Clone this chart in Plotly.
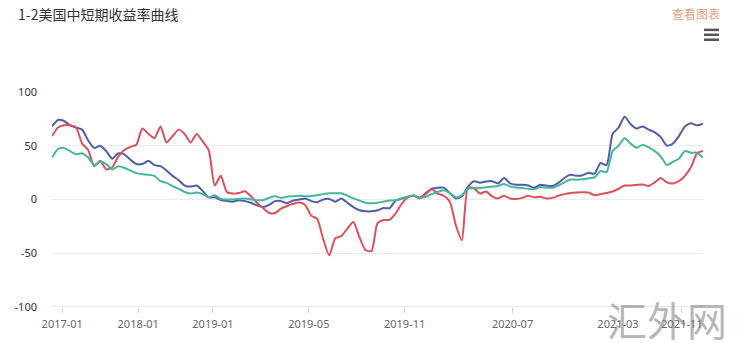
import plotly.graph_objects as go

# category index (one point per observation)
n_points = 109
idx = list(range(n_points))

tick_pos = [1.7, 14.3, 26.7, 42.6, 58.5, 76.4, 93.9, 104.5]
tick_text = ["2017-01", "2018-01", "2019-01", "2019-05", "2019-11", "2020-07", "2021-03", "2021-11"]

blue = [68, 74, 73, 69, 67, 65, 55, 48, 50, 45, 38, 43, 42, 37, 33, 33, 36, 32, 31, 27,
        22, 18, 13, 12, 13, 8, 2, 2, -0.5, -1.5, -2, -0.6, -1.5, -3, -5.5, -7, -5, -1.5, -1.5, -3.5,
        -1, 0, 1, -1.5, -2.5, 0, 0.5, -2, 1, -3, -7, -10, -11, -11, -10, -8, -8, -1, 1, 2.5,
        3.5, 1, 6, 10, 11, 11, 6, 1, 3, 12, 17, 15.6, 16.8, 17, 15, 20, 15, 13.8, 13.8, 13,
        11, 13.8, 13, 12.5, 15.5, 20, 23, 22, 22.5, 24.8, 24, 34, 32, 61, 67, 77, 70, 66, 68, 65,
        62.5, 58, 50, 52, 59, 68, 71, 69, 70.6]

red = [59, 67, 69, 69, 67, 52, 46, 31, 36, 28, 30, 40, 46, 49, 51, 66, 61, 57, 68, 53,
       59, 65, 61, 53, 61, 54, 46, 13, 22, 7, 5.5, 6, 7.6, 3, -3, -8, -12.5, -12.5, -8.5, -6,
       -4, -2.8, -5, -15, -18, -37, -52, -36, -34, -27, -21, -35, -47, -48, -22, -19, -19, -13, -4, 2,
       3.5, 2, 5, 9.5, 5.5, 3.5, -2, -24, -38, 11, 10.5, 5.5, 7.5, 3, 1, 3.4, 1, 0.5, 1.5, 3.4,
       2, 2.5, 1, 1.5, 3.5, 5, 6, 6.5, 6.7, 6.5, 4, 5, 6, 7.5, 10, 13, 13, 13.5, 14, 12.5,
       16, 20, 16, 15, 17, 22, 30, 43, 45.2]

teal = [39, 47, 48, 45, 42, 43, 39, 32, 35, 33, 28, 31, 29.5, 27, 24.5, 23.5, 23, 22, 17, 15.5,
        12.5, 10, 7, 5.5, 6.5, 5, 2, 4, 0.5, 0, 0, 0.5, 1, 0, -0.6, -0.6, 1.5, 3, 1.5, 2.5,
        3, 3.4, 3, 3.2, 4, 5, 5.8, 5.8, 5.8, 3.5, 1, -1, -3, -3.5, -3, -2, -1, -0.6, 0.5, 2.5,
        4, 1.5, 2.5, 5, 7, 8.5, 6, 2, 4, 10, 10.5, 10.8, 11.4, 12, 12.5, 14.5, 12, 11.2, 10.7, 10,
        9.5, 11.6, 11, 11, 13, 16, 18.6, 18.4, 18.8, 19.8, 20.6, 26.5, 25.5, 45, 50, 57, 52, 48, 51, 48.5,
        45, 40, 32, 35, 38, 45, 43.5, 43.5, 39]

series = [("blue", blue, "#4f5dab"), ("red", red, "#de4f5a"), ("teal", teal, "#45b59c")]

fig = go.Figure()
for name, vals, col in series:
    fig.add_trace(go.Scatter(x=idx, y=vals, mode="lines", name=name,
                             line=dict(color=col, width=2, shape="spline", smoothing=0.6),
                             hoverinfo="skip"))

fig.update_layout(
    width=738, height=343,
    margin=dict(l=52, r=35, t=92, b=33),
    paper_bgcolor="white", plot_bgcolor="white",
    showlegend=False,
    font=dict(family="Noto Sans, Noto Sans CJK SC", size=11, color="#333"),
    xaxis=dict(range=[0, n_points - 1], tickvals=tick_pos, ticktext=tick_text,
               showgrid=False, zeroline=False, showline=False,
               ticks="outside", ticklen=5, tickcolor="#ccd0e6", tickwidth=1,
               tickfont=dict(size=11, color="#666"), ticklabelstandoff=2),
    yaxis=dict(range=[-100, 100], tickvals=[-100, -50, 0, 50, 100],
               ticktext=["-100", "-50", "0", "50", "100"],
               showgrid=True, gridcolor="#ececec", gridwidth=1, zeroline=False,
               showline=False, tickfont=dict(size=11, color="#333"),
               ticklabelstandoff=14),
    annotations=[
        dict(text="1-2美国中短期收益率曲线", xref="paper", yref="paper",
             x=(16 - 52) / 651, y=(310 - 13) / 218, xanchor="left", yanchor="middle",
             showarrow=False, font=dict(family="Noto Sans CJK SC", size=14, color="#333")),
        dict(text="查看图表", xref="paper", yref="paper",
             x=(722 - 52) / 651, y=(310 - 12) / 218, xanchor="right", yanchor="middle",
             showarrow=False, font=dict(family="Noto Sans CJK SC", size=12, color="#d9a585")),
        dict(text="汇外网", xref="paper", yref="paper",
             x=(667 - 52) / 651, y=(310 - 322) / 218, xanchor="center", yanchor="middle",
             showarrow=False, font=dict(family="Noto Sans CJK SC", size=40, color="rgba(120,120,120,0.55)")),
    ],
)

# x axis line at -100 (lavender)
fig.add_shape(type="line", xref="paper", yref="y", x0=0, x1=1, y0=-100, y1=-100,
              line=dict(color="#ccd0e6", width=1))
# menu icon
for py in (29, 34, 39):
    fig.add_shape(type="line", xref="paper", yref="paper",
                  x0=(704 - 52) / 651, x1=(719 - 52) / 651,
                  y0=(310 - py) / 218, y1=(310 - py) / 218,
                  line=dict(color="#555", width=2.5))

fig.write_html("out.html")
